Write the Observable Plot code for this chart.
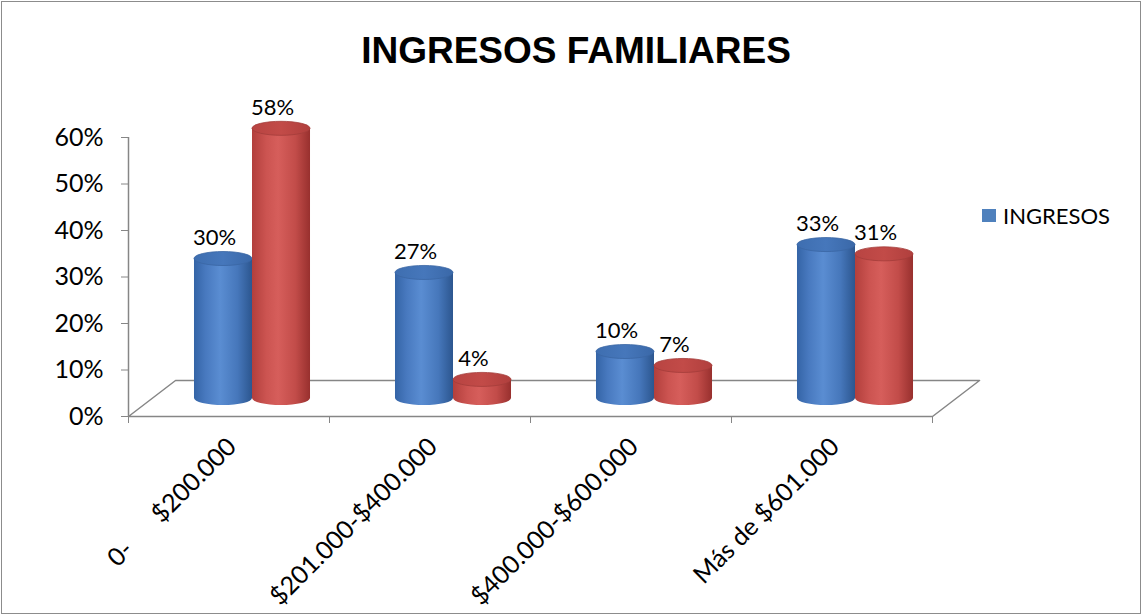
<!DOCTYPE html>
<html>
<head>
<meta charset="utf-8">
<script src="https://cdn.jsdelivr.net/npm/d3@7"></script>
<script src="https://cdn.jsdelivr.net/npm/@observablehq/plot@0.6"></script>
<style>
  html, body { margin: 0; padding: 0; background: #fff; }
  #wrap { position: relative; width: 1142px; height: 615px; overflow: hidden; background: #fff; }
  #border { position: absolute; left: 1px; top: 1px; width: 1138px; height: 611px; border: 1px solid #8c8c8c; pointer-events: none; }
  #title { position: absolute; left: 5px; top: 31px; width: 1142px; text-align: center;
           font: bold 37px "Liberation Sans", Arial, sans-serif; line-height: 40px; color: #000; }
  #legend { position: absolute; left: 982px; top: 201px; height: 28px; font: 22px Lato, sans-serif; color: #000; display: flex; align-items: center; }
  #legend .sw { width: 14px; height: 13px; background: #4f81bd; margin-right: 7px; }
  #chart { position: absolute; left: 0; top: 0; }
  #chart svg text { white-space: pre; }
</style>
</head>
<body>
<div id="wrap">
  <div id="chart"></div>
  <div id="title">INGRESOS FAMILIARES</div>
  <div id="legend"><div class="sw"></div><span>INGRESOS</span></div>
  <div id="border"></div>
</div>
<script>
// ---- data ----
const categories = ["0-      $200.000", "$201.000-$400.000", "$400.000-$600.000", "Más de $601.000"];
const seriesNames = ["INGRESOS", "Serie 2"];
const ingresos = [0.30, 0.27, 0.10, 0.33];
const serie2 = [0.58, 0.04, 0.07, 0.31];
const yTicks = [0, 0.1, 0.2, 0.3, 0.4, 0.5, 0.6];

// ---- geometry constants (style) ----
const W = 0.2886;          // cylinder width in category units
const DEPTH_X = 0.234;     // floor depth in category units
const DEPTH_Y = 0.0774;    // floor depth in value units
const BAR_DX = 23.5, BAR_DY = -18; // cylinders sit mid-depth (px)
const ELL = 7;             // ellipse half height (px)
const n = categories.length;

const rows = categories.flatMap((c, i) => [
  {i, s: 0, v: ingresos[i]},
  {i, s: 1, v: serie2[i]}
]);
const x1 = r => r.i + 0.5 - (r.s === 0 ? W : 0);
const x2 = r => x1(r) + W;
const xc = r => x1(r) + W / 2;

const floor = [[0, 0], [n, 0], [n + DEPTH_X, DEPTH_Y], [DEPTH_X, DEPTH_Y], [0, 0]];
const axisGray = "#868686";

function cylinder(data, body, bottom, top, topStroke) {
  return [
    Plot.rect(data, {x1, x2, y1: 0, y2: 0, insetTop: -ELL, insetBottom: -ELL, rx: 60, ry: 60, dx: BAR_DX, dy: BAR_DY, fill: bottom}),
    Plot.rect(data, {x1, x2, y1: 0, y2: "v", dx: BAR_DX, dy: BAR_DY, fill: body}),
    Plot.rect(data, {x1, x2, y1: "v", y2: "v", insetTop: -ELL, insetBottom: -ELL, rx: 60, ry: 60, dx: BAR_DX, dy: BAR_DY, fill: top, stroke: topStroke, strokeWidth: 0.8})
  ];
}

const plot = Plot.plot({
  width: 1142,
  height: 615,
  marginLeft: 128,
  marginRight: 210,
  marginTop: 137,
  marginBottom: 199,
  style: {fontFamily: "Lato, sans-serif", fontSize: "25px", color: "#000", background: "transparent", overflow: "visible"},
  x: {type: "linear", domain: [0, n]},
  y: {domain: [0, 0.6]},
  marks: [
    Plot.line(floor, {x: d => d[0], y: d => d[1], stroke: axisGray, strokeWidth: 1.5}),
    Plot.ruleX([0], {y1: 0, y2: 0.6, stroke: axisGray, strokeWidth: 1.5}),
    Plot.axisY({ticks: yTicks, tickFormat: d3.format(".0%"), tickSize: 7, tickPadding: 18, stroke: axisGray, label: null, fontSize: 25}),
    Plot.axisX({ticks: d3.range(n + 1), tickFormat: () => "", tickSize: 7, stroke: axisGray, label: null}),
    Plot.axisX({ticks: d3.range(n).map(i => i + 0.5), tickFormat: d => categories[Math.floor(d)], tickSize: 0, tickPadding: 26, tickRotate: -45, dx: 3, label: null, fontSize: 25}),
    ...cylinder(rows.filter(r => r.s === 0), "url(#gBlue)", "url(#gBlue)", "url(#gBlueTop)", "#3a66a3"),
    ...cylinder(rows.filter(r => r.s === 1), "url(#gRed)", "url(#gRed)", "url(#gRedTop)", "#a33c3a"),
    Plot.text(rows, {x: xc, y: "v", text: d => d3.format(".0%")(d.v), dx: BAR_DX - 9, dy: BAR_DY - ELL - 14, fontSize: 22, fill: "#000"})
  ]
});

const defs = `
<linearGradient id="gBlue" x1="0" y1="0" x2="1" y2="0">
  <stop offset="0" stop-color="#3464a6"/>
  <stop offset="0.2" stop-color="#4879bf"/>
  <stop offset="0.45" stop-color="#5a8dd2"/>
  <stop offset="0.75" stop-color="#4677bb"/>
  <stop offset="1" stop-color="#2c568f"/>
</linearGradient>
<linearGradient id="gBlueTop" x1="0" y1="0" x2="1" y2="0">
  <stop offset="0" stop-color="#3e6eb0"/>
  <stop offset="0.5" stop-color="#4677bb"/>
  <stop offset="1" stop-color="#3a68a8"/>
</linearGradient>
<linearGradient id="gRed" x1="0" y1="0" x2="1" y2="0">
  <stop offset="0" stop-color="#b23f3c"/>
  <stop offset="0.25" stop-color="#cc5451"/>
  <stop offset="0.45" stop-color="#d65e5b"/>
  <stop offset="0.75" stop-color="#c24c49"/>
  <stop offset="1" stop-color="#98302e"/>
</linearGradient>
<linearGradient id="gRedTop" x1="0" y1="0" x2="1" y2="0">
  <stop offset="0" stop-color="#b84442"/>
  <stop offset="0.5" stop-color="#c24b48"/>
  <stop offset="1" stop-color="#b03f3d"/>
</linearGradient>`;
const svgNS = "http://www.w3.org/2000/svg";
const defsEl = document.createElementNS(svgNS, "defs");
defsEl.innerHTML = defs;
plot.insertBefore(defsEl, plot.firstChild);
plot.querySelectorAll("text").forEach(t => t.setAttribute("xml:space", "preserve"));
document.getElementById("chart").appendChild(plot);
</script>
</body>
</html>
